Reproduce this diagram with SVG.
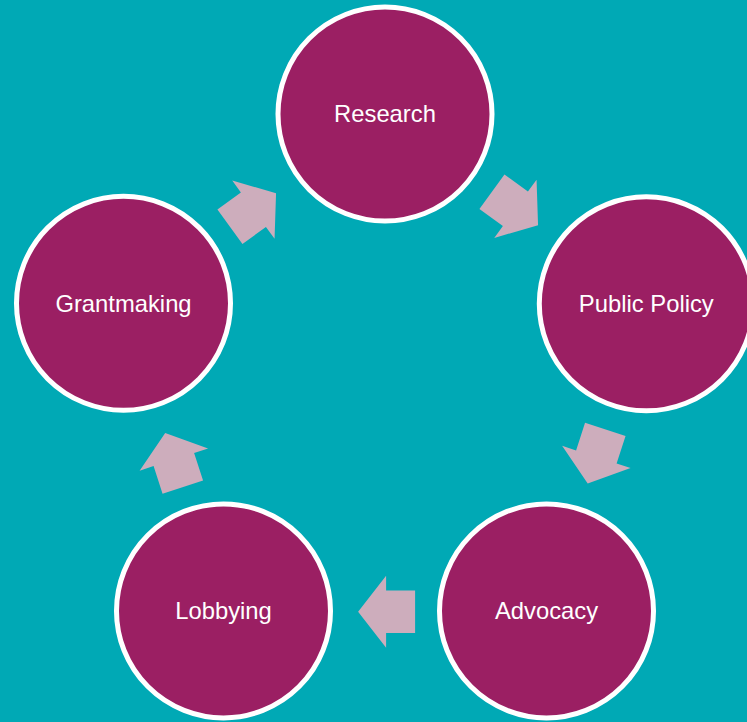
<svg xmlns="http://www.w3.org/2000/svg" width="747" height="722" viewBox="0 0 747 722">
<style>
.node circle{fill:#9B1F63;stroke:#FFFFFF;stroke-width:5}
.node text{fill:#FFFFFF;font-family:"Liberation Sans",Arial,sans-serif;font-size:23.8px;text-anchor:middle}
.arrow{fill:#CDADBC}
</style>
<defs>
<polygon id="blk" points="-28.5,-21.3 0.5,-21.3 0.5,-36 28.5,0 0.5,36 0.5,21.3 -28.5,21.3"/>
</defs>
<rect width="747" height="722" fill="#00A9B5"/>
<g id="connectors" class="arrow">
<use href="#blk" transform="translate(253,210) rotate(-36)"/>
<use href="#blk" transform="translate(515,208.5) rotate(36)"/>
<use href="#blk" transform="translate(596.5,456.5) rotate(108)"/>
<use href="#blk" transform="translate(386.6,611.7) rotate(180)"/>
<use href="#blk" transform="translate(174,460) rotate(-108)"/>
</g>
<g id="research" class="node"><circle cx="385" cy="114" r="107"/><text x="385" y="122">Research</text></g>
<g id="public-policy" class="node"><circle cx="646.3" cy="303.8" r="107"/><text x="646.3" y="311.8">Public Policy</text></g>
<g id="advocacy" class="node"><circle cx="546.5" cy="610.9" r="107"/><text x="546.5" y="618.9">Advocacy</text></g>
<g id="lobbying" class="node"><circle cx="223.5" cy="610.9" r="107"/><text x="223.5" y="618.9">Lobbying</text></g>
<g id="grantmaking" class="node"><circle cx="123.5" cy="303.3" r="107"/><text x="123.5" y="311.5">Grantmaking</text></g>
</svg>
